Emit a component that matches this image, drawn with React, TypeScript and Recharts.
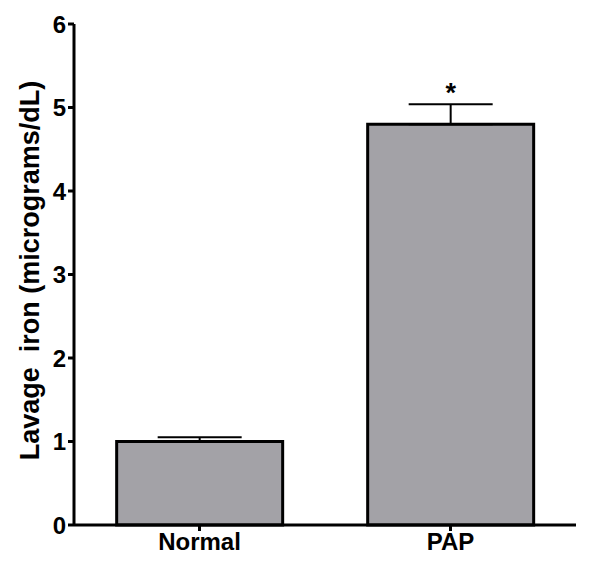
import React from 'react';
import { BarChart, Bar, XAxis, YAxis, ErrorBar, LabelList } from 'recharts';

const categories = ['Normal', 'PAP'];
const values = [1.0, 4.8];
const errors = [0.05, 0.24];
const marks = ['', '*'];
const yTicks = [0, 1, 2, 3, 4, 5, 6];

const data = categories.map((c, i) => ({
  name: c,
  value: values[i],
  err: [0, errors[i]],
  sig: marks[i],
}));

const font = '"Liberation Sans", Arial, sans-serif';

export default function App() {
  return (
    <div style={{ position: 'absolute', left: 0, top: 0, background: '#fff' }}>
      <BarChart
        width={600}
        height={566}
        data={data}
        margin={{ top: 24, right: 24, bottom: 0, left: 0 }}
        barCategoryGap="17%"
      >
        <XAxis
          dataKey="name"
          height={41}
          axisLine={{ stroke: '#000', strokeWidth: 3 }}
          tickLine={{ stroke: '#000', strokeWidth: 3 }}
          tickSize={6}
          tick={{ fill: '#000', fontSize: 24, fontWeight: 'bold', fontFamily: font }}
        />
        <XAxis
          xAxisId="top"
          orientation="top"
          dataKey="name"
          height={0}
          axisLine={{ stroke: '#000', strokeWidth: 3 }}
          tick={false}
          tickLine={false}
        />
        <YAxis
          domain={[0, 6]}
          ticks={yTicks}
          width={74}
          axisLine={{ stroke: '#000', strokeWidth: 3 }}
          tickLine={{ stroke: '#000', strokeWidth: 3 }}
          tickSize={6}
          tick={{ fill: '#000', fontSize: 24, fontWeight: 'bold', fontFamily: font }}
          label={{
            value: 'Lavage\u00A0 iron (micrograms/dL)',
            angle: -90,
            position: 'insideLeft',
            offset: 29,
            dy: -4,
            style: { textAnchor: 'middle', fill: '#000', fontSize: 27, fontWeight: 'bold', fontFamily: font },
          }}
        />
        <YAxis
          yAxisId="right"
          orientation="right"
          domain={[0, 6]}
          width={0}
          axisLine={{ stroke: '#000', strokeWidth: 3 }}
          tick={false}
          tickLine={false}
        />
        <Bar dataKey="value" fill="#a3a2a7" stroke="#000" strokeWidth={3} isAnimationActive={false}>
          <ErrorBar dataKey="err" width={42} stroke="#000" strokeWidth={2} direction="y" />
          <LabelList
            dataKey="sig"
            position="top"
            offset={22}
            style={{ fill: '#000', fontSize: 27, fontWeight: 'bold', fontFamily: font }}
          />
        </Bar>
      </BarChart>
    </div>
  );
}
